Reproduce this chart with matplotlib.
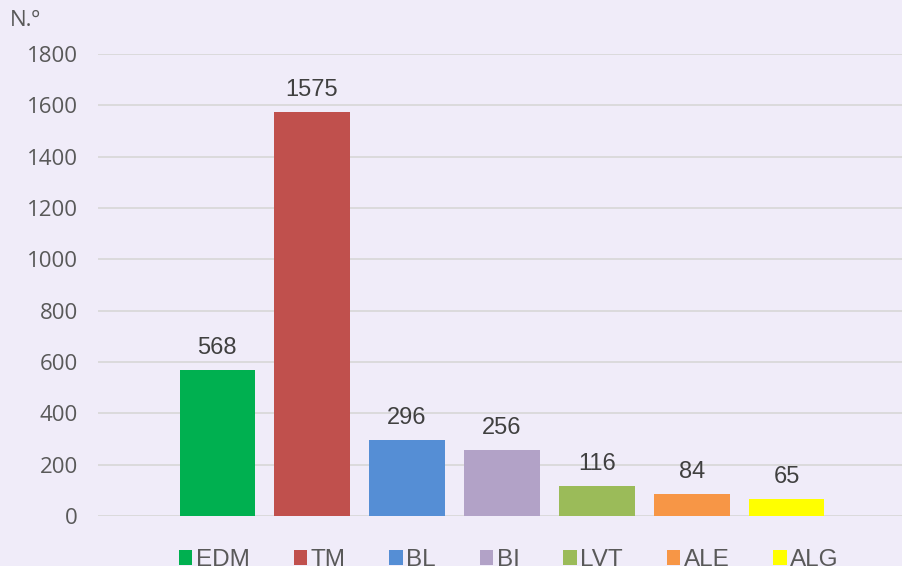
import matplotlib
matplotlib.use("Agg")
import matplotlib.pyplot as plt
from matplotlib.patches import Patch

# data
series = ["EDM", "TM", "BL", "BI", "LVT", "ALE", "ALG"]
values = [568, 1575, 296, 256, 116, 84, 65]
colors = ["#00B050", "#C0504D", "#558ED5", "#B2A2C7", "#9BBB59", "#F79646", "#FFFF00"]
yticks = [0, 200, 400, 600, 800, 1000, 1200, 1400, 1600, 1800]

bg = "#F0ECF9"
fig = plt.figure(figsize=(9.03, 5.66), dpi=100, facecolor=bg)
ax = fig.add_axes([98 / 903, 50 / 566, 808 / 903, 462 / 566], facecolor=bg)

x = list(range(len(series)))
ax.bar(x, values, width=0.79, color=colors, zorder=2)
for xi, v in zip(x, values):
    ax.annotate(str(v), (xi, v), xytext=(0, 8), textcoords="offset points",
                ha="center", va="bottom", fontsize=17, color="#404040",
                family="Liberation Sans")

ax.set_xlim(-1.253, 7.253)
ax.set_ylim(0, 1800)
ax.set_yticks(yticks)
ax.set_yticklabels([str(t) for t in yticks], fontsize=16, color="#595959",
                   family="Open Sans")
ax.set_xticks([])
ax.grid(axis="y", color="#D9D9D9", linewidth=1.3, zorder=0)
ax.tick_params(axis="y", length=0, pad=14.5)
for s in ax.spines.values():
    s.set_visible(False)

fig.text(10 / 903, 1 - 20 / 566, "N.º", fontsize=16, color="#595959",
         family="Open Sans", va="center", ha="left")

handles = [Patch(facecolor=c, label=s) for s, c in zip(series, colors)]
fig.legend(handles=handles, loc="center", bbox_to_anchor=(509 / 903, 6 / 566),
           ncol=7, frameon=False, handlelength=0.55, handleheight=0.55,
           handletextpad=0.15, columnspacing=1.8, borderpad=0,
           prop={"family": "Liberation Sans", "size": 17.5}, labelcolor="#595959")

fig.savefig("out.png", dpi=100, facecolor=bg)
